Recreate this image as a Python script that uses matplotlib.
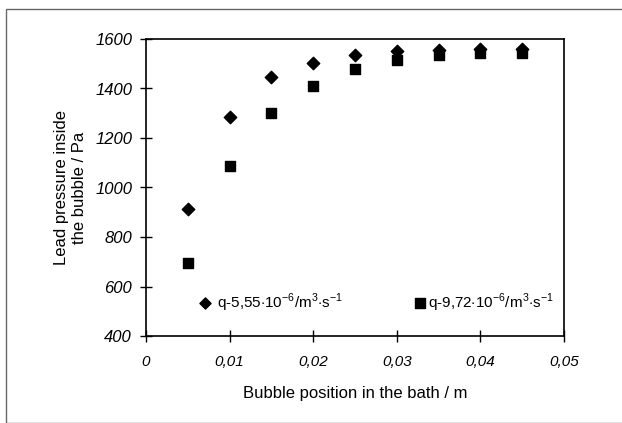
import matplotlib
matplotlib.use("Agg")
import matplotlib.pyplot as plt
from matplotlib.patches import Rectangle

positions = [0.005, 0.010, 0.015, 0.020, 0.025, 0.030, 0.035, 0.040, 0.045]
pressure_q1 = [915, 1285, 1445, 1505, 1535, 1550, 1555, 1558, 1558]
pressure_q2 = [695, 1085, 1300, 1410, 1480, 1515, 1535, 1545, 1545]
xticks = [0, 0.01, 0.02, 0.03, 0.04, 0.05]
xtick_labels = ["0", "0,01", "0,02", "0,03", "0,04", "0,05"]
yticks = [400, 600, 800, 1000, 1200, 1400, 1600]
label_q1 = r"q-5,55$\cdot$10$^{-6}$/m$^3$$\cdot$s$^{-1}$"
label_q2 = r"q-9,72$\cdot$10$^{-6}$/m$^3$$\cdot$s$^{-1}$"

plt.rcParams['font.family'] = ['Liberation Sans', 'DejaVu Sans']
plt.rcParams['mathtext.fontset'] = 'custom'
plt.rcParams['mathtext.rm'] = 'Liberation Sans'

W, H = 622, 423
fig = plt.figure(figsize=(W/100, H/100), dpi=100)
fig.patch.set_facecolor('white')
fig.patches.append(Rectangle((6/W, 0), 1.2, 1 - 9/H, transform=fig.transFigure,
                             fill=False, edgecolor='#666666', linewidth=1.0))

ax = fig.add_axes([146/W, 1 - 336/H, (564-146)/W, (336-39)/H])
ax.scatter(positions, pressure_q1, marker='D', s=40, color='black', zorder=3)
ax.scatter(positions, pressure_q2, marker='s', s=50, color='black', zorder=3)

ax.set_xlim(0, 0.05)
ax.set_ylim(400, 1600)
ax.set_xticks(xticks)
ax.set_xticklabels(xtick_labels, fontstyle='italic', fontsize=11)
ax.set_yticks(yticks)
ax.set_yticklabels([str(v) for v in yticks], fontstyle='italic', fontsize=12)
ax.tick_params(direction='inout', length=8, width=1)
ax.tick_params(axis='x', pad=10)
ax.tick_params(axis='y', pad=6)
for s in ax.spines.values():
    s.set_linewidth(1.2)

ax.set_xlabel("Bubble position in the bath / m", fontsize=12, labelpad=12)
ax.set_ylabel("Lead pressure inside\nthe bubble / Pa", fontsize=12, labelpad=6)

# legend entries
ax.scatter([0.007], [535], marker='D', s=32, color='black', zorder=3)
ax.text(0.0085, 535, label_q1, fontsize=11, va='center', ha='left')
ax.scatter([0.0328], [535], marker='s', s=42, color='black', zorder=3)
ax.text(0.0337, 535, label_q2, fontsize=11, va='center', ha='left')

fig.savefig("out.png", dpi=100)
